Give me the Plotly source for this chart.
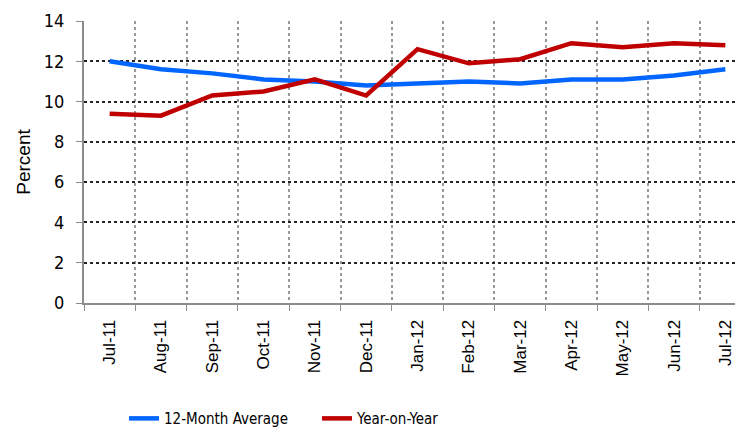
import plotly.graph_objects as go

# Monthly inflation, Jul-11 to Jul-12
months = ['Jul-11', 'Aug-11', 'Sep-11', 'Oct-11', 'Nov-11', 'Dec-11', 'Jan-12',
          'Feb-12', 'Mar-12', 'Apr-12', 'May-12', 'Jun-12', 'Jul-12']
avg_12m = [12.0, 11.6, 11.4, 11.1, 11.0, 10.8, 10.9, 11.0, 10.9, 11.1, 11.1, 11.3, 11.6]
yoy = [9.4, 9.3, 10.3, 10.5, 11.1, 10.3, 12.6, 11.9, 12.1, 12.9, 12.7, 12.9, 12.8]
y_ticks = [0, 2, 4, 6, 8, 10, 12, 14]

narrow = "DejaVu Sans Condensed, Liberation Sans Narrow, sans-serif"
arial = "Liberation Sans, Arial, sans-serif"

fig = go.Figure()
fig.add_trace(go.Scatter(x=months, y=avg_12m, mode='lines', name='12-Month Average',
                         line=dict(color='#0066FF', width=4.5)))
fig.add_trace(go.Scatter(x=months, y=yoy, mode='lines', name='Year-on-Year',
                         line=dict(color='#C00000', width=4.5)))

# page body adds an 8px offset, margins allow for it
fig.update_layout(
    width=743, height=434,
    margin=dict(l=76, r=0, t=13, b=139, autoexpand=False),
    plot_bgcolor='white',
    paper_bgcolor='white',
    showlegend=True,
    legend=dict(orientation='h', x=0.06, xanchor='left', y=-0.41, yanchor='middle',
                font=dict(family=narrow, size=15, color='black'),
                itemwidth=30, entrywidth=148, entrywidthmode='pixels', tracegroupgap=0),
)

fig.update_xaxes(
    type='category', tickson='boundaries', range=[-0.5, 12.5], automargin=False,
    tickangle=-90, tickfont=dict(family=arial, size=17, color='black'),
    ticklabelstandoff=8,
    showline=True, linecolor='#8c8c8c', linewidth=2,
    ticks='outside', ticklen=6, tickcolor='#8c8c8c',
    showgrid=True, gridcolor='#999999', griddash='dot', gridwidth=1.5,
)

fig.update_yaxes(
    range=[0, 14], tickvals=y_ticks, automargin=False,
    tickfont=dict(family=narrow, size=18, color='black'),
    ticklabelstandoff=8,
    title=dict(text='Percent', font=dict(family=arial, size=19, color='black'),
               standoff=8),
    showline=True, linecolor='#8c8c8c', linewidth=2,
    ticks='outside', ticklen=6, tickcolor='#8c8c8c',
    showgrid=True, gridcolor='#222222', griddash='dot', gridwidth=1.5,
    zeroline=False,
)

fig.write_html("out.html")
